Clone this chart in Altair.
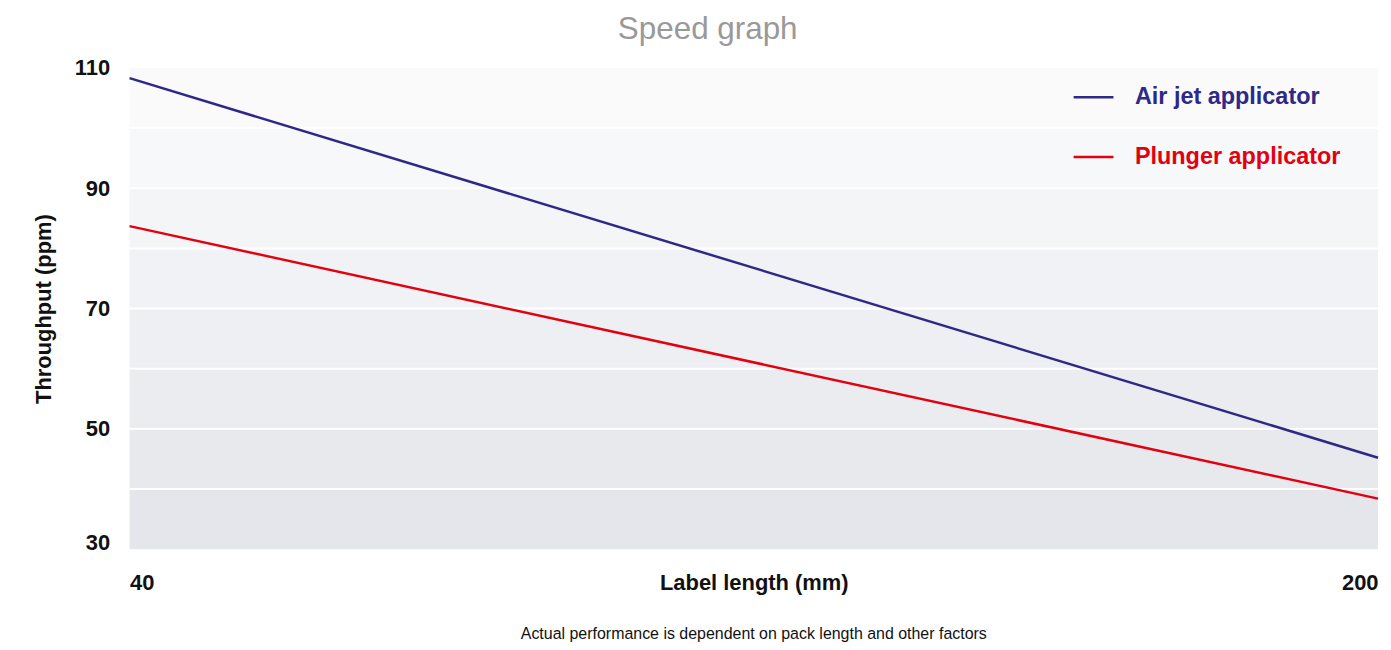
import altair as alt
import pandas as pd

# ---- data ----
label_length = [40, 200]
air_jet = [108.3, 45.2]
plunger = [83.7, 38.4]
series_names = ["Air jet applicator", "Plunger applicator"]
series_colors = ["#2e2886", "#e3000f"]

band_lo = [30, 40, 50, 60, 70, 80, 90, 100]
band_hi = [40, 50, 60, 70, 80, 90, 100, 110]
band_colors = ["#e5e6eb", "#e8e9ed", "#ebecf0", "#eeeff2", "#f1f2f5",
               "#f4f5f7", "#f7f8fa", "#fafafb"]
grid_values = [40, 50, 60, 70, 80, 90, 100]
y_label_values = [30, 50, 70, 90, 110]
x_label_values = [40, 200]
footer_text = ["Actual performance is dependent on pack length and other factors"]

W, H = 1253, 483

lines_df = pd.DataFrame({
    "x": label_length * 2,
    "y": air_jet + plunger,
    "series": [series_names[0]] * len(label_length) + [series_names[1]] * len(label_length),
})
bands_df = pd.DataFrame({"lo": band_lo, "hi": band_hi, "band": [str(v) for v in band_lo]})
grid_df = pd.DataFrame({"g": grid_values})
footer_df = pd.DataFrame({"t": footer_text})

xscale = alt.Scale(domain=[40, 200], nice=False, zero=False)
yscale = alt.Scale(domain=[30, 110], nice=False, zero=False)

bands = alt.Chart(bands_df).mark_rect().encode(
    y=alt.Y("lo:Q", scale=yscale),
    y2="hi:Q",
    fill=alt.Fill("band:N", scale=alt.Scale(domain=[str(v) for v in band_lo], range=band_colors), legend=None),
)

grid = alt.Chart(grid_df).mark_rule(color="white", strokeWidth=2).encode(
    y=alt.Y("g:Q", scale=yscale),
)

lines = alt.Chart(lines_df).mark_line(strokeWidth=2.5).encode(
    x=alt.X("x:Q", scale=xscale, title="Label length (mm)",
            axis=alt.Axis(values=x_label_values, labelFlush=True, grid=False, domain=False,
                          ticks=False, labelPadding=23, titleY=23, titleBaseline="top")),
    y=alt.Y("y:Q", scale=yscale, title="Throughput (ppm)",
            axis=alt.Axis(values=y_label_values, grid=False, domain=False, ticks=False,
                          labelPadding=20, titlePadding=19,
                          labelBaseline={"expr": "datum.value == 30 ? 'alphabetic' : 'middle'"})),
    color=alt.Color("series:N", scale=alt.Scale(domain=series_names, range=series_colors),
                    legend=alt.Legend(title=None, orient="none", legendX=946, legendY=8,
                                      symbolType="stroke", symbolSize=1600, symbolStrokeWidth=2.5,
                                      labelOffset=20, rowPadding=27,
                                      labelFontSize=23.5, labelFontWeight="bold",
                                      labelFont="Liberation Sans", labelLimit=400,
                                      labelColor={"expr": "datum.value == 'Air jet applicator' ? '#2e2886' : '#e3000f'"})),
)

footer = alt.Chart(footer_df).mark_text(fontSize=16, font="Liberation Sans", color="#111111",
                                        baseline="middle", align="center").encode(
    text="t:N",
    x=alt.value(W / 2),
    y=alt.value(H + 85),
)

chart = alt.layer(bands, grid, lines, footer).properties(
    width=W,
    height=H,
    title=alt.TitleParams("Speed graph", fontSize=31.5, font="Liberation Sans", fontWeight="normal",
                          color="#999999", anchor="middle", frame="bounds", offset=12),
    padding={"left": 24, "top": 4, "right": 0, "bottom": 0},
).configure_view(stroke=None).configure_axis(
    labelFont="Liberation Sans", labelFontSize=22, labelFontWeight="bold", labelColor="#111111",
    titleFont="Liberation Sans", titleFontSize=22, titleFontWeight="bold", titleColor="#111111",
)

chart.save("out.html", embed_options={"renderer": "svg", "actions": False})
